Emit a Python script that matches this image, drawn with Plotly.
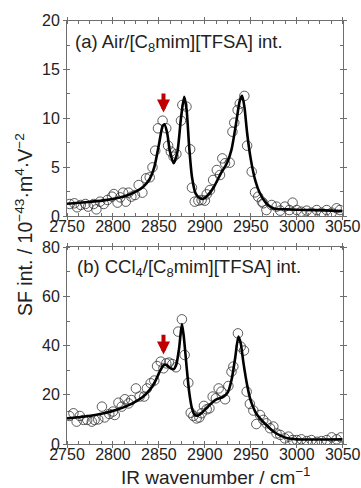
import plotly.graph_objects as go

# ---- Panel (a): Air/[C8mim][TFSA] interface ----
a_x = [2753, 2758, 2761, 2765, 2770, 2773, 2779, 2782, 2786, 2790, 2794, 2799, 2801, 2805,
       2808, 2811, 2814, 2817, 2820, 2824, 2828, 2832, 2836, 2840, 2843, 2846, 2849, 2854,
       2858, 2860, 2863, 2866, 2869, 2874, 2875.5, 2880, 2884, 2886, 2889, 2893, 2896.5, 2900,
       2902, 2905.6, 2909, 2913, 2916.5, 2919, 2922, 2927, 2930, 2932, 2935.7, 2938, 2943,
       2946, 2951, 2954.6, 2958, 2962, 2963.6, 2967, 2972.7, 2978, 2982, 2987, 2992, 2995.5,
       3000, 3005, 3010.8, 3016, 3021.7, 3027, 3032.5, 3038, 3043.4, 3047]
a_y = [1.23, 1.30, 0.89, 1.13, 1.23, 0.96, 1.23, 0.68, 1.47, 1.23, 1.64, 1.98, 2.25, 1.37,
       1.91, 2.39, 1.47, 2.39, 1.98, 2.15, 3.17, 2.39, 3.86, 3.96, 4.98, 6.69, 8.98, 9.76,
       8.98, 7.20, 6.59, 6.08, 6.35, 9.76, 11.37, 11.20, 6.83, 2.90, 1.47, 1.57, 1.64, 1.57,
       2.22, 2.66, 3.69, 4.71, 4.20, 5.90, 5.40, 5.46, 8.63, 9.56, 10.85, 11.50, 12.30,
       7.20, 4.54, 2.42, 1.98, 1.47, 1.30, 0.61, 1.13, 0.96, 0.55, 0.96, 0.61, 1.37,
       0.61, 0.44, 0.55, 0.34, 0.61, 0.34, 0.61, 0.34, 0.79, 0.61]
a_fit_x = [2750, 2770, 2790, 2805, 2815, 2825, 2833, 2840, 2845, 2850, 2854, 2856, 2859, 2862,
           2866, 2870, 2874, 2877.5, 2880, 2883, 2886, 2890, 2895, 2898, 2903, 2910, 2917,
           2924, 2929, 2934, 2938, 2940.5, 2943, 2946, 2950, 2955, 2960, 2966, 2972, 2976,
           2990, 3010, 3030, 3050]
a_fit_y = [1.25, 1.4, 1.6, 1.85, 2.1, 2.5, 3.0, 3.8, 5.0, 7.3, 9.2, 9.4, 8.5, 6.6,
           5.4, 6.5, 10.0, 12.2, 11.0, 7.0, 4.0, 2.3, 1.8, 1.75, 2.1, 3.0, 4.3,
           5.4, 6.8, 9.5, 11.8, 12.3, 11.2, 8.5, 5.8, 3.6, 2.3, 1.4, 0.9, 0.75,
           0.68, 0.62, 0.58, 0.5]

# ---- Panel (b): CCl4/[C8mim][TFSA] interface ----
b_x = [2752.5, 2757, 2760.5, 2764, 2768, 2772, 2777, 2780, 2784, 2788, 2791, 2796, 2800, 2802,
       2806, 2809.5, 2813, 2817, 2820, 2825, 2829, 2834, 2837, 2841, 2845, 2848, 2852, 2855,
       2858, 2861, 2864.6, 2868.6, 2871, 2875, 2878, 2882, 2884.6, 2887.5, 2891, 2894, 2896.5,
       2899, 2902, 2905, 2908.5, 2912, 2915, 2918, 2922, 2925.6, 2929, 2931, 2936, 2939,
       2942.6, 2945.5, 2949, 2952.8, 2956, 2960, 2963.6, 2967, 2971, 2974.5, 2978, 2982,
       2987, 2991, 2995.6, 3000, 3005, 3011, 3016, 3022, 3027, 3032.6, 3038, 3043.4, 3048]
b_y = [11.4, 12.5, 9.1, 11.4, 9.8, 9.8, 9.1, 9.8, 10.0, 15.2, 10.8, 12.2, 13.2, 11.8,
       16.8, 15.2, 18.2, 16.5, 17.9, 22.6, 19.3, 19.3, 22.6, 24.7, 25.8, 31.7, 33.5, 30.8,
       32.8, 33.1, 32.5, 31.2, 45.7, 50.7, 36.2, 24.9, 12.7, 11.4, 10.4, 10.8, 12.5,
       15.5, 14.1, 14.5, 19.3, 18.6, 22.6, 21.3, 18.2, 23.6, 29.4, 31.5, 45.0, 39.6,
       38.0, 21.3, 16.3, 13.6, 8.1, 11.8, 9.8, 8.4, 6.4, 7.1, 4.3, 3.7,
       2.3, 3.0, 1.6, 1.6, 1.9, 1.2, 1.6, 0.9, 1.2, 1.6, 2.7, 1.9, 2.7]
b_fit_x = [2750, 2770, 2790, 2805, 2820, 2832, 2840, 2846, 2851, 2855, 2858, 2862, 2866, 2869,
           2872, 2875, 2877, 2880, 2883, 2886, 2889, 2892, 2897, 2905, 2912, 2920, 2925, 2929,
           2933, 2936.5, 2939, 2942, 2946, 2950, 2955, 2960, 2968, 2975, 2983, 2990, 3000, 3050]
b_fit_y = [10.4, 11.2, 12.5, 14.0, 16.3, 19.0, 22.0, 25.5, 29.5, 32.0, 32.2, 31.0, 30.4, 32.5,
           39.0, 48.8, 44.0, 32.0, 21.0, 14.5, 11.8, 11.5, 12.8, 15.8, 18.0, 19.2, 21.0, 26.0,
           35.0, 43.7, 41.0, 33.0, 24.0, 17.5, 13.0, 10.4, 7.3, 5.0, 3.3, 2.3, 1.9, 1.9]

arrow_x = 2855
arrow_a = (12.7, 10.6)
arrow_b = (45.0, 36.4)

FONT = "Liberation Sans, Arial, sans-serif"
TXT = "#222222"
AX = "#6e6e6e"

fig = go.Figure()
marker = dict(symbol="circle-open", size=9.5, color="#333333", line=dict(width=0.8))
fig.add_trace(go.Scatter(x=a_x, y=a_y, mode="markers", marker=marker, xaxis="x", yaxis="y"))
fig.add_trace(go.Scatter(x=a_fit_x, y=a_fit_y, mode="lines",
                         line=dict(color="black", width=2.6, shape="spline", smoothing=0.7),
                         xaxis="x", yaxis="y"))
fig.add_trace(go.Scatter(x=b_x, y=b_y, mode="markers", marker=marker, xaxis="x2", yaxis="y2"))
fig.add_trace(go.Scatter(x=b_fit_x, y=b_fit_y, mode="lines",
                         line=dict(color="black", width=2.6, shape="spline", smoothing=0.7),
                         xaxis="x2", yaxis="y2"))

xdom = [67 / 361, 342.7 / 361]
common = dict(showline=True, linecolor=AX, linewidth=1, mirror="ticks", ticks="outside",
              ticklen=3, tickcolor=AX, tickwidth=1, showgrid=False, zeroline=False,
              automargin=False, tickfont=dict(family=FONT, size=16, color=TXT))
xcommon = dict(common, range=[2750, 3050], tick0=2750, dtick=50, ticklabelstandoff=-7,
               minor=dict(dtick=12.5, ticks="inside", ticklen=3, tickcolor=AX))

fig.update_layout(
    width=361, height=488, margin=dict(l=0, r=0, t=0, b=0),
    paper_bgcolor="white", plot_bgcolor="white", showlegend=False,
    xaxis=dict(xcommon, domain=xdom, anchor="y"),
    yaxis=dict(common, domain=[1 - 216 / 488, 1 - 20.7 / 488], range=[0, 20], dtick=5,
               minor=dict(dtick=2.5, ticks="inside", ticklen=3, tickcolor=AX), anchor="x"),
    xaxis2=dict(xcommon, domain=xdom, anchor="y2"),
    yaxis2=dict(common, domain=[1 - 444 / 488, 1 - 247.3 / 488], range=[0, 80], dtick=20,
                minor=dict(dtick=10, ticks="inside", ticklen=3, tickcolor=AX), anchor="x2"),
)

ann = [
    dict(text="(a) Air/[C<sub>8</sub>mim][TFSA] int.", x=73 / 361, y=1 - 43 / 488,
         xref="paper", yref="paper", xanchor="left", yanchor="middle", showarrow=False,
         font=dict(family=FONT, size=18.5, color=TXT)),
    dict(text="(b) CCl<sub>4</sub>/[C<sub>8</sub>mim][TFSA] int.", x=75 / 361, y=1 - 268 / 488,
         xref="paper", yref="paper", xanchor="left", yanchor="middle", showarrow=False,
         font=dict(family=FONT, size=18.5, color=TXT)),
    dict(text="SF int. / 10<sup>\u221243</sup>\u00b7m<sup>4</sup>\u00b7V<sup>\u22122</sup>",
         x=24 / 361, y=1 - 225 / 488, xref="paper", yref="paper", xanchor="center",
         yanchor="middle", textangle=-90, showarrow=False,
         font=dict(family=FONT, size=19.5, color=TXT)),
    dict(text="IR wavenumber / cm<sup>\u22121</sup>", x=215 / 361, y=1 - 476 / 488,
         xref="paper", yref="paper", xanchor="center", yanchor="middle", showarrow=False,
         font=dict(family=FONT, size=19, color=TXT)),
    dict(x=arrow_x, y=arrow_a[1], ax=arrow_x, ay=arrow_a[0], xref="x", yref="y",
         axref="x", ayref="y", text="", showarrow=True, arrowhead=2, arrowsize=0.65,
         arrowwidth=4, arrowcolor="#c00000"),
    dict(x=arrow_x, y=arrow_b[1], ax=arrow_x, ay=arrow_b[0], xref="x2", yref="y2",
         axref="x2", ayref="y2", text="", showarrow=True, arrowhead=2, arrowsize=0.65,
         arrowwidth=4, arrowcolor="#c00000"),
]
fig.update_layout(annotations=ann)

fig.write_html("out.html")
